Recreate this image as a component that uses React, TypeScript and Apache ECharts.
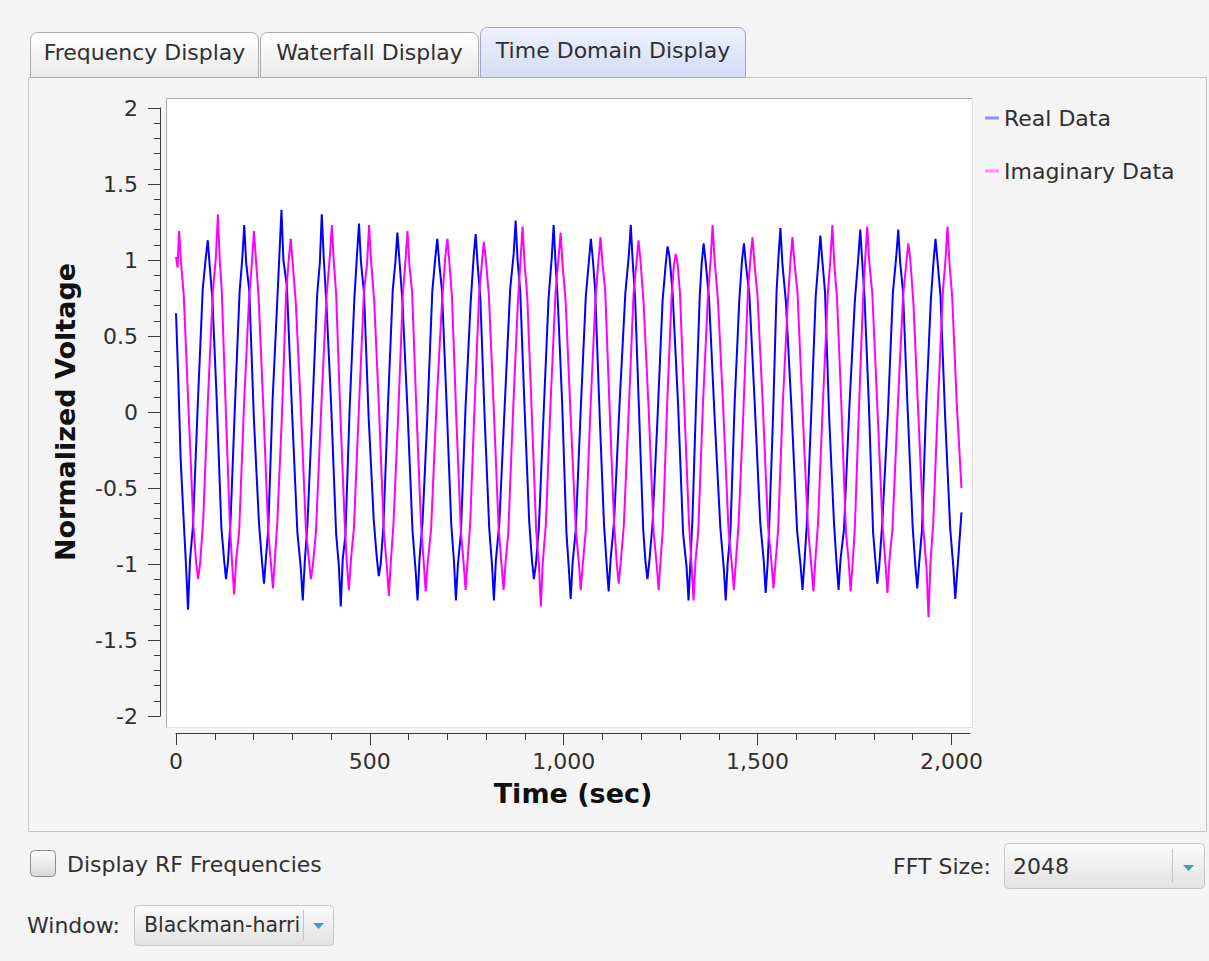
import React, { useEffect, useRef } from 'react';
import * as echarts from 'echarts';

const tabLabels = ['Frequency Display', 'Waterfall Display', 'Time Domain Display'];
const seriesNames = ['Real Data', 'Imaginary Data'];
const xMajorTicks = [0, 500, 1000, 1500, 2000];
const xMinorTicks = [100, 200, 300, 400, 600, 700, 800, 900, 1100, 1200, 1300, 1400, 1600, 1700, 1800, 1900];
const yMin = -2;
const yMax = 2;
const yStep = 0.5;
const xMax = 2048;
const checkboxLabel = 'Display RF Frequencies';
const fftLabel = 'FFT Size:';
const fftValue = '2048';
const windowLabel = 'Window:';
const windowValue = 'Blackman-harri';

const realData: [number, number][] = [
  [0, 0.65], [6, 0.21], [12, -0.31], [20, -0.72], [26, -1.02], [31, -1.30], [36, -0.98],
  [44, -0.74], [56, 0.04], [69, 0.81], [77, 1.02], [82, 1.13], [87, 0.96],
  [94, 0.74], [105, 0.08], [117, -0.76], [124, -0.97], [129, -1.10], [134, -0.99],
  [141, -0.70], [152, 0.04], [164, 0.79], [171, 1.01], [176, 1.23], [181, 0.98],
  [189, 0.80], [201, -0.05], [214, -0.73], [222, -0.99], [227, -1.13], [232, -0.96],
  [238, -0.77], [249, 0.07], [261, 0.72], [267, 1.05], [272, 1.33], [277, 1.00],
  [286, 0.83], [299, 0.02], [313, -0.79], [322, -1.03], [327, -1.24], [332, -0.99],
  [339, -0.74], [351, -0.03], [364, 0.77], [371, 0.98], [376, 1.30], [381, 1.02],
  [388, 0.71], [400, 0.06], [413, -0.80], [420, -1.01], [425, -1.28], [430, -0.97],
  [437, -0.81], [448, 0.03], [460, 0.74], [467, 1.04], [472, 1.24], [477, 0.99],
  [485, 0.78], [497, -0.04], [510, -0.71], [518, -0.96], [523, -1.08], [528, -1.00],
  [535, -0.75], [547, 0.06], [559, 0.80], [566, 0.99], [571, 1.18], [576, 1.01],
  [584, 0.73], [597, 0.02], [610, -0.78], [618, -1.04], [623, -1.24], [628, -0.97],
  [636, -0.72], [648, -0.05], [661, 0.79], [669, 1.02], [674, 1.14], [679, 0.98],
  [686, 0.80], [698, 0.05], [710, -0.74], [717, -0.98], [722, -1.24], [727, -1.01],
  [735, -0.79], [747, 0.04], [760, 0.72], [768, 1.03], [773, 1.17], [778, 0.97],
  [785, 0.75], [796, -0.03], [808, -0.77], [815, -1.00], [820, -1.24], [825, -0.98],
  [834, -0.73], [848, 0.05], [862, 0.81], [871, 1.04], [876, 1.26], [881, 1.00],
  [888, 0.79], [899, 0.03], [911, -0.72], [918, -0.97], [923, -1.10], [928, -1.01],
  [936, -0.76], [948, -0.02], [961, 0.75], [969, 1.01], [974, 1.23], [979, 0.98],
  [985, 0.72], [996, 0.06], [1007, -0.79], [1013, -1.02], [1018, -1.23], [1023, -0.99],
  [1031, -0.78], [1044, 0.02], [1057, 0.76], [1065, 0.99], [1070, 1.14], [1075, 1.01],
  [1081, 0.81], [1093, -0.04], [1104, -0.74], [1111, -1.01], [1116, -1.18], [1121, -0.97],
  [1130, -0.72], [1144, 0.05], [1159, 0.78], [1168, 1.03], [1173, 1.23], [1178, 0.99],
  [1184, 0.76], [1194, 0.03], [1205, -0.77], [1211, -0.99], [1216, -1.10], [1221, -0.98],
  [1229, -0.74], [1242, -0.04], [1255, 0.73], [1263, 0.97], [1268, 1.09], [1273, 1.02],
  [1281, 0.78], [1295, 0.05], [1308, -0.80], [1317, -1.02], [1322, -1.24], [1327, -0.98],
  [1332, -0.71], [1341, 0.03], [1351, 0.77], [1356, 0.98], [1361, 1.11], [1366, 0.99],
  [1375, 0.74], [1389, -0.02], [1404, -0.76], [1413, -1.03], [1418, -1.24], [1423, -0.99],
  [1430, -0.79], [1441, 0.06], [1453, 0.74], [1460, 1.00], [1465, 1.11], [1470, 0.97],
  [1479, 0.77], [1493, 0.04], [1507, -0.73], [1516, -0.98], [1521, -1.19], [1526, -1.00],
  [1530, -0.76], [1540, -0.03], [1549, 0.79], [1554, 1.02], [1559, 1.21], [1564, 0.98],
  [1573, 0.73], [1587, 0.05], [1602, -0.78], [1611, -1.01], [1616, -1.17], [1621, -0.99],
  [1627, -0.74], [1639, 0.02], [1650, 0.76], [1657, 0.99], [1662, 1.16], [1667, 1.00],
  [1674, 0.79], [1685, -0.05], [1697, -0.72], [1704, -1.00], [1709, -1.17], [1714, -0.97],
  [1723, -0.77], [1737, 0.04], [1751, 0.73], [1760, 1.02], [1765, 1.20], [1770, 0.99],
  [1776, 0.75], [1787, 0.06], [1798, -0.79], [1804, -0.98], [1809, -1.13], [1814, -1.01],
  [1822, -0.72], [1836, -0.02], [1849, 0.78], [1858, 1.03], [1863, 1.20], [1868, 0.98],
  [1875, 0.80], [1887, 0.03], [1900, -0.75], [1907, -1.01], [1912, -1.16], [1917, -0.99],
  [1924, -0.78], [1935, 0.05], [1947, 0.74], [1954, 0.99], [1959, 1.14], [1964, 1.00],
  [1972, 0.76], [1984, -0.04], [1997, -0.77], [2005, -1.02], [2010, -1.23],
  [2018, -0.95], [2026, -0.66],
];

const imagData: [number, number][] = [
  [0, 1.02], [4, 0.95], [8, 1.19], [13, 0.98],
  [20, 0.77], [32, 0.04], [45, -0.75], [52, -0.99], [57, -1.10], [62, -1.00],
  [70, -0.72], [82, 0.06], [95, 0.79], [103, 1.02], [108, 1.30], [113, 0.99],
  [118, 0.80], [129, -0.03], [139, -0.74], [145, -1.01], [150, -1.20], [155, -0.98],
  [163, -0.78], [175, 0.02], [188, 0.73], [196, 0.99], [201, 1.19], [206, 1.01],
  [213, 0.76], [225, 0.05], [238, -0.79], [245, -1.00], [250, -1.16], [255, -0.97],
  [261, -0.74], [273, -0.04], [284, 0.78], [291, 1.01], [296, 1.14], [301, 0.98],
  [309, 0.72], [322, 0.03], [335, -0.77], [343, -0.98], [348, -1.10], [353, -1.01],
  [361, -0.79], [375, 0.05], [388, 0.75], [397, 1.03], [402, 1.23], [407, 0.99],
  [413, 0.78], [424, -0.02], [435, -0.72], [441, -1.01], [446, -1.17], [451, -0.98],
  [459, -0.76], [472, 0.04], [485, 0.80], [493, 0.98], [498, 1.23], [503, 1.00],
  [511, 0.74], [523, 0.06], [536, -0.78], [544, -1.02], [549, -1.21], [554, -0.99],
  [561, -0.73], [573, -0.03], [585, 0.77], [592, 1.00], [597, 1.19], [602, 0.97],
  [609, 0.79], [620, 0.02], [632, -0.74], [639, -0.99], [644, -1.18], [649, -1.00],
  [658, -0.77], [672, 0.05], [686, 0.72], [695, 1.03], [700, 1.14], [705, 0.99],
  [712, 0.75], [723, -0.04], [735, -0.79], [742, -1.00], [747, -1.17], [752, -0.98],
  [759, -0.72], [770, 0.03], [782, 0.78], [789, 0.98], [794, 1.12], [799, 1.01],
  [807, 0.77], [819, 0.06], [832, -0.75], [840, -1.02], [845, -1.17], [850, -0.99],
  [857, -0.80], [869, -0.02], [882, 0.73], [889, 1.01], [894, 1.22], [899, 0.98],
  [906, 0.76], [917, 0.04], [929, -0.78], [936, -1.00], [941, -1.28], [946, -0.99],
  [954, -0.74], [966, 0.05], [979, 0.79], [987, 1.02], [992, 1.18], [997, 0.97],
  [1005, 0.73], [1018, -0.03], [1031, -0.76], [1039, -0.99], [1044, -1.17], [1049, -1.01],
  [1057, -0.78], [1069, 0.02], [1082, 0.75], [1090, 1.01], [1095, 1.15], [1100, 0.98],
  [1107, 0.80], [1118, 0.05], [1130, -0.73], [1137, -1.00], [1142, -1.13], [1147, -0.99],
  [1155, -0.75], [1167, -0.04], [1180, 0.77], [1188, 0.99], [1193, 1.13], [1198, 1.00],
  [1206, 0.72], [1219, 0.03], [1232, -0.79], [1240, -1.01], [1245, -1.17], [1250, -0.97],
  [1256, -0.76], [1267, 0.06], [1278, 0.74], [1284, 0.96], [1289, 1.04], [1294, 0.97],
  [1300, 0.78], [1312, -0.02], [1323, -0.72], [1330, -1.02], [1335, -1.24], [1340, -0.98],
  [1347, -0.79], [1359, 0.04], [1372, 0.76], [1379, 1.00], [1384, 1.23], [1389, 1.01],
  [1398, 0.73], [1411, 0.05], [1425, -0.77], [1434, -1.01], [1439, -1.17], [1444, -0.99],
  [1451, -0.74], [1463, -0.03], [1475, 0.79], [1482, 1.02], [1487, 1.15], [1492, 0.98],
  [1500, 0.76], [1514, 0.02], [1527, -0.75], [1536, -0.99], [1541, -1.16], [1546, -1.00],
  [1553, -0.78], [1565, 0.05], [1578, 0.72], [1585, 1.00], [1590, 1.15], [1595, 0.99],
  [1603, 0.79], [1617, -0.04], [1630, -0.76], [1639, -1.02], [1644, -1.18], [1649, -0.98],
  [1656, -0.73], [1668, 0.03], [1681, 0.77], [1688, 1.01], [1693, 1.23], [1698, 0.97],
  [1705, 0.75], [1716, 0.06], [1728, -0.79], [1735, -0.98], [1740, -1.18], [1745, -1.01],
  [1751, -0.76], [1761, -0.02], [1772, 0.74], [1778, 1.02], [1783, 1.22], [1788, 0.99],
  [1796, 0.78], [1809, 0.04], [1822, -0.73], [1830, -1.00], [1835, -1.19], [1840, -0.98],
  [1848, -0.77], [1862, 0.05], [1875, 0.75], [1884, 0.99], [1889, 1.11], [1894, 1.00],
  [1902, 0.72], [1915, -0.03], [1928, -0.78], [1936, -1.03], [1941, -1.35], [1946, -0.99],
  [1953, -0.74], [1965, 0.04], [1978, 0.79], [1985, 1.01], [1990, 1.22], [1995, 0.98],
  [2002, 0.76], [2014, 0.05], [2026, -0.50],
];

const FONT = 'DejaVu Sans';
const TXT = '#303030';
const AX = '#3a3a3a';

const grad = (a: string, b: string) => ({
  type: 'linear', x: 0, y: 0, x2: 0, y2: 1,
  colorStops: [{ offset: 0, color: a }, { offset: 1, color: b }],
});

const label = (text: string, x: number, y: number, align = 'left', size = 22) => ({
  type: 'text', x, y, z: -1,
  style: { text, fontSize: size, fontFamily: FONT, fill: TXT, align, verticalAlign: 'middle' },
});

function buildGraphics() {
  const els: any[] = [];
  els.push({ type: 'rect', z: -10, shape: { x: 28.5, y: 77.5, width: 1178, height: 754 }, style: { fill: '#f4f4f4', stroke: '#c4c4c4', lineWidth: 1 } });
  const tabs = [
    { x: 30.5, y: 32.5, w: 228, h: 45, sel: false },
    { x: 260.5, y: 32.5, w: 218, h: 45, sel: false },
    { x: 480.5, y: 27.5, w: 265, h: 50, sel: true },
  ];
  tabs.forEach((t, i) => {
    els.push({
      type: 'rect', z: -9,
      shape: { x: t.x, y: t.y, width: t.w, height: t.h, r: [7, 7, 0, 0] },
      style: {
        fill: t.sel ? grad('#eef2fd', '#d2dcf5') : grad('#ffffff', '#e9e9e9'),
        stroke: t.sel ? '#9aa8cc' : '#ababab', lineWidth: 1,
      },
    });
    els.push(label(tabLabels[i], t.x + t.w / 2, t.sel ? 50 : 52, 'center'));
  });
  els.push({ type: 'rect', z: -9, shape: { x: 166, y: 98, width: 807, height: 630 }, style: { fill: '#ffffff' } });
  els.push({ type: 'line', z: -8, shape: { x1: 166, y1: 98.5, x2: 973, y2: 98.5 }, style: { stroke: '#a8a8a8', lineWidth: 1 } });
  els.push({ type: 'line', z: -8, shape: { x1: 166.5, y1: 98, x2: 166.5, y2: 728 }, style: { stroke: '#a8a8a8', lineWidth: 1 } });
  els.push({ type: 'line', z: -8, shape: { x1: 972.5, y1: 98, x2: 972.5, y2: 728 }, style: { stroke: '#e2e2e2', lineWidth: 1 } });
  els.push({ type: 'line', z: -8, shape: { x1: 166, y1: 727.5, x2: 973, y2: 727.5 }, style: { stroke: '#e2e2e2', lineWidth: 1 } });
  els.push({ type: 'rect', z: -9, shape: { x: 30.5, y: 850.5, width: 25, height: 26, r: 4 }, style: { fill: grad('#fdfdfd', '#d9d9d9'), stroke: '#8c8c8c', lineWidth: 1 } });
  els.push(label(checkboxLabel, 67, 864));
  els.push(label(fftLabel, 991, 866, 'right'));
  els.push({ type: 'rect', z: -9, shape: { x: 1004.5, y: 843.5, width: 200, height: 45, r: 4 }, style: { fill: grad('#fbfbfb', '#e2e2e2'), stroke: '#c6c6c6', lineWidth: 1 } });
  els.push(label(fftValue, 1013, 866));
  els.push({ type: 'line', z: -8, shape: { x1: 1172.5, y1: 849, x2: 1172.5, y2: 883 }, style: { stroke: '#c4c4c4', lineWidth: 1 } });
  els.push({ type: 'polygon', z: -8, shape: { points: [[1183, 865], [1194, 865], [1188.5, 871]] }, style: { fill: '#3f9fb3' } });
  els.push(label(windowLabel, 27, 925));
  els.push({ type: 'rect', z: -9, shape: { x: 134.5, y: 905.5, width: 199, height: 40, r: 4 }, style: { fill: grad('#fbfbfb', '#e2e2e2'), stroke: '#c6c6c6', lineWidth: 1 } });
  els.push(label(windowValue, 144, 925, 'left', 20.5));
  els.push({ type: 'line', z: -8, shape: { x1: 303.5, y1: 910, x2: 303.5, y2: 941 }, style: { stroke: '#c4c4c4', lineWidth: 1 } });
  els.push({ type: 'polygon', z: -8, shape: { points: [[313, 923], [324, 923], [318.5, 929]] }, style: { fill: '#3f9fb3' } });
  return els;
}

export default function App() {
  const ref = useRef<HTMLDivElement>(null);
  useEffect(() => {
    document.body.style.margin = '0';
    const chart = echarts.init(ref.current!, null, { renderer: 'svg' });
    const axisLineStyle = { color: AX, width: 1 };
    chart.setOption({
      animation: false,
      backgroundColor: '#f4f4f4',
      textStyle: { fontFamily: FONT },
      graphic: { elements: buildGraphics() },
      grid: { left: 176, top: 108, width: 794, height: 608, containLabel: false },
      legend: {
        orient: 'vertical', left: 985, top: 107, padding: 0, itemWidth: 14, itemHeight: 3, icon: 'rect', itemGap: 31,
        selectedMode: false,
        textStyle: { fontSize: 22, fontFamily: FONT, color: TXT, lineHeight: 22 },
        data: [
          { name: seriesNames[0], itemStyle: { color: '#8f8fff' } },
          { name: seriesNames[1], itemStyle: { color: '#ff8fff' } },
        ],
      },
      xAxis: [
        {
          type: 'value', min: 0, max: xMax, position: 'bottom', offset: 17, z: 10,
          axisLine: { show: true, onZero: false, lineStyle: axisLineStyle },
          axisTick: { show: true, customValues: xMajorTicks, length: 12, lineStyle: axisLineStyle },
          axisLabel: {
            customValues: xMajorTicks, fontSize: 22, color: TXT, margin: 17, fontFamily: FONT,
            formatter: (v: number) => v.toLocaleString('en-US'),
          },
          splitLine: { show: false },
          name: 'Time (sec)', nameLocation: 'middle', nameGap: 47,
          nameTextStyle: { fontSize: 27, fontWeight: 'bold', color: '#111', fontFamily: FONT },
        },
        {
          type: 'value', min: 0, max: xMax, position: 'bottom', offset: 17, z: 10,
          axisLine: { show: false, onZero: false },
          axisTick: { show: true, customValues: xMinorTicks, length: 7, lineStyle: axisLineStyle },
          axisLabel: { show: false },
          splitLine: { show: false },
        },
      ],
      yAxis: {
        type: 'value', min: yMin, max: yMax, interval: yStep, offset: 16, z: 10,
        axisLine: { show: true, onZero: false, lineStyle: axisLineStyle },
        axisTick: { show: true, length: 12, lineStyle: axisLineStyle },
        minorTick: { show: true, splitNumber: 5, length: 6, lineStyle: axisLineStyle },
        axisLabel: { fontSize: 22, color: TXT, margin: 22, fontFamily: FONT },
        splitLine: { show: false },
        minorSplitLine: { show: false },
        name: 'Normalized Voltage', nameLocation: 'middle', nameGap: 81,
        nameTextStyle: { fontSize: 27, fontWeight: 'bold', color: '#111', fontFamily: FONT },
      },
      series: [
        {
          name: seriesNames[0], type: 'line', data: realData, xAxisIndex: 0,
          showSymbol: false, symbol: 'none', z: 3,
          lineStyle: { color: '#0000ff', width: 2 }, itemStyle: { color: '#0000ff' },
        },
        {
          name: seriesNames[1], type: 'line', data: imagData, xAxisIndex: 0,
          showSymbol: false, symbol: 'none', z: 3,
          lineStyle: { color: '#ff00ff', width: 2 }, itemStyle: { color: '#ff00ff' },
        },
      ],
    });
    return () => chart.dispose();
  }, []);
  return <div ref={ref} style={{ position: 'fixed', left: 0, top: 0, width: 1209, height: 961 }} />;
}
